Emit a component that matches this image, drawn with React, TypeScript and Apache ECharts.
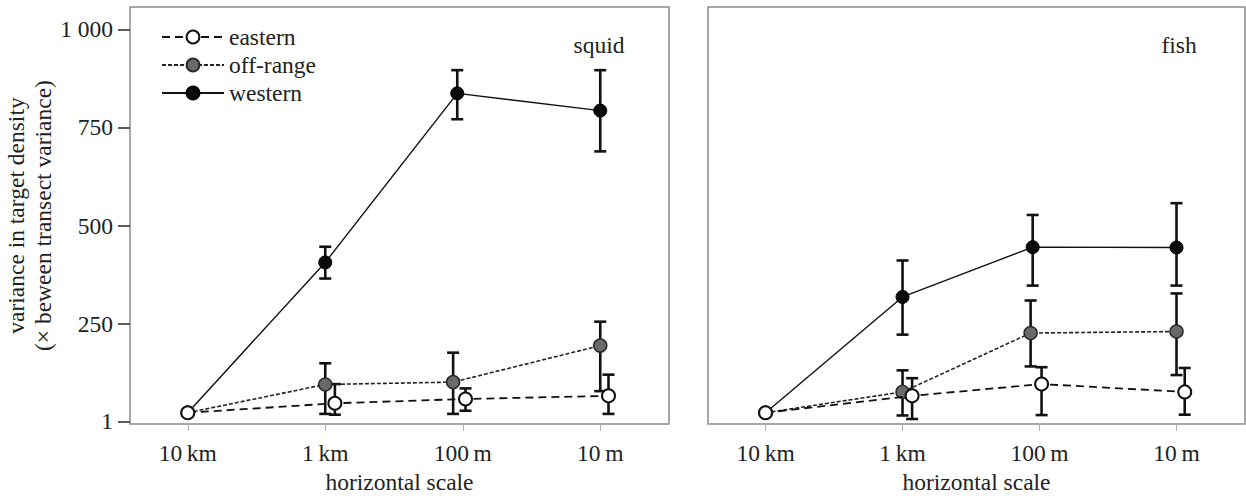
import React, { useEffect, useRef } from 'react';
import * as echarts from 'echarts';

const FONT = 'Liberation Serif';
const FS = 23.5;

const categories = ['10\u2009km', '1\u2009km', '100\u2009m', '10\u2009m'];
const categoryPositions = [0, 1, 2, 3];
const yTickValues = [1, 250, 500, 750, 1000];
const seriesNames = ['eastern', 'off-range', 'western'];
const panelLabels = ['squid', 'fish'];

// squid panel (x = category index incl. small dodge)
const squidEasternX = [0, 1.07, 2.02, 3.06];
const squidEasternY = [23, 47, 58, 66];
const squidEasternHi = [null, 96, 85, 120];
const squidEasternLo = [null, 18, 28, 20];

const squidOffX = [0, 1.0, 1.93, 3.0];
const squidOffY = [23, 95, 101, 194];
const squidOffHi = [null, 149, 176, 255];
const squidOffLo = [null, 20, 20, 78];

const squidWestX = [0, 1.0, 1.96, 3.0];
const squidWestY = [23, 406, 837, 793];
const squidWestHi = [null, 446, 896, 896];
const squidWestLo = [null, 365, 771, 689];

// fish panel
const fishEasternX = [0, 1.07, 2.015, 3.06];
const fishEasternY = [23, 66, 96, 76];
const fishEasternHi = [null, 111, 139, 137];
const fishEasternLo = [null, 7, 17, 18];

const fishOffX = [0, 1.0, 1.935, 3.0];
const fishOffY = [23, 76, 226, 230];
const fishOffHi = [null, 131, 309, 327];
const fishOffLo = [null, 16, 141, 119];

const fishWestX = [0, 1.0, 1.95, 3.0];
const fishWestY = [23, 318, 445, 444];
const fishWestHi = [null, 411, 527, 557];
const fishWestLo = [null, 222, 347, 347];

const styles: Record<string, any> = {
  eastern: {
    itemStyle: { color: '#ffffff', borderColor: '#111', borderWidth: 2 },
    lineStyle: { color: '#111', width: 1.8, type: [8, 5] },
    z: 5,
  },
  'off-range': {
    itemStyle: { color: '#6a6a6a', borderColor: '#2a2a2a', borderWidth: 1.5 },
    lineStyle: { color: '#222', width: 1.6, type: [4, 2] },
    z: 4,
  },
  western: {
    itemStyle: { color: '#0a0a0a', borderColor: '#000', borderWidth: 1 },
    lineStyle: { color: '#111', width: 1.4, type: 'solid' },
    z: 3,
  },
};

function lineSeries(name: string, xs: number[], ys: number[], g: number) {
  const s = styles[name];
  return {
    type: 'line',
    name,
    xAxisIndex: g,
    yAxisIndex: g,
    data: xs.map((x, i) => [x, ys[i]]),
    symbol: 'circle',
    symbolSize: 13,
    itemStyle: s.itemStyle,
    lineStyle: s.lineStyle,
    z: s.z,
    silent: true,
  };
}

function errSeries(xs: number[], hi: (number | null)[], lo: (number | null)[], g: number, z: number) {
  const data: number[][] = [];
  xs.forEach((x, i) => {
    if (hi[i] != null && lo[i] != null) data.push([x, lo[i] as number, hi[i] as number]);
  });
  return {
    type: 'custom',
    xAxisIndex: g,
    yAxisIndex: g,
    data,
    z,
    silent: true,
    encode: { x: 0, y: [1, 2] },
    renderItem: (params: any, api: any) => {
      const x = api.value(0);
      const pLo = api.coord([x, api.value(1)]);
      const pHi = api.coord([x, api.value(2)]);
      const cap = 6;
      const style = { stroke: '#111', lineWidth: 2.6 };
      return {
        type: 'group',
        children: [
          { type: 'line', shape: { x1: pHi[0], y1: pHi[1], x2: pLo[0], y2: pLo[1] }, style },
          { type: 'line', shape: { x1: pHi[0] - cap, y1: pHi[1], x2: pHi[0] + cap, y2: pHi[1] }, style },
          { type: 'line', shape: { x1: pLo[0] - cap, y1: pLo[1], x2: pLo[0] + cap, y2: pLo[1] }, style },
        ],
      };
    },
  };
}

const textBase = { fontFamily: FONT, fontSize: FS, color: '#222' };

function xAxis(g: number) {
  return {
    type: 'value',
    gridIndex: g,
    min: -0.42,
    max: 3.5,
    splitLine: { show: false },
    axisLine: { show: false, onZero: false },
    axisTick: {
      show: true,
      customValues: categoryPositions,
      length: 7,
      lineStyle: { color: '#b0b0b0', width: 1 },
    },
    axisLabel: {
      customValues: categoryPositions,
      formatter: (v: number) => categories[Math.round(v)],
      margin: 17,
      ...textBase,
    },
    name: 'horizontal scale',
    nameLocation: 'middle',
    nameGap: 42,
    nameTextStyle: { ...textBase },
  };
}

function yAxis(g: number) {
  const left = g === 0;
  return {
    type: 'value',
    gridIndex: g,
    min: -6,
    max: 1057,
    splitLine: { show: false },
    axisLine: { show: false, onZero: false },
    axisTick: {
      show: left,
      customValues: yTickValues,
      length: 12,
      lineStyle: { color: '#333', width: 1.6 },
    },
    axisLabel: {
      show: left,
      customValues: yTickValues,
      formatter: (v: number) => (v === 1000 ? '1 000' : String(v)),
      margin: 17,
      ...textBase,
    },
    name: left ? 'variance in target density\n(\u00d7 beween transect variance)' : '',
    nameLocation: 'middle',
    nameRotate: 90,
    nameGap: 69,
    nameTextStyle: { ...textBase, lineHeight: 27 },
  };
}

export default function App() {
  const ref = useRef<HTMLDivElement>(null);
  useEffect(() => {
    if (!ref.current) return;
    const chart = echarts.init(ref.current, undefined, { renderer: 'svg' });
    const panels = [
      {
        e: [squidEasternX, squidEasternY, squidEasternHi, squidEasternLo],
        o: [squidOffX, squidOffY, squidOffHi, squidOffLo],
        w: [squidWestX, squidWestY, squidWestHi, squidWestLo],
      },
      {
        e: [fishEasternX, fishEasternY, fishEasternHi, fishEasternLo],
        o: [fishOffX, fishOffY, fishOffHi, fishOffLo],
        w: [fishWestX, fishWestY, fishWestHi, fishWestLo],
      },
    ];
    const series: any[] = [];
    panels.forEach((p: any, g) => {
      series.push(errSeries(p.w[0], p.w[2], p.w[3], g, 2));
      series.push(errSeries(p.o[0], p.o[2], p.o[3], g, 2));
      series.push(errSeries(p.e[0], p.e[2], p.e[3], g, 2));
      series.push(lineSeries('western', p.w[0], p.w[1], g));
      series.push(lineSeries('off-range', p.o[0], p.o[1], g));
      series.push(lineSeries('eastern', p.e[0], p.e[1], g));
    });
    chart.setOption({
      animation: false,
      backgroundColor: '#ffffff',
      grid: [
        { left: 130, top: 7, width: 539, height: 426, show: true, borderColor: '#8c8c8c', borderWidth: 1.5, backgroundColor: 'transparent' },
        { left: 708, top: 7, width: 537, height: 426, show: true, borderColor: '#8c8c8c', borderWidth: 1.5, backgroundColor: 'transparent' },
      ],
      xAxis: [xAxis(0), xAxis(1)],
      yAxis: [yAxis(0), yAxis(1)],
      legend: {
        data: seriesNames,
        orient: 'vertical',
        left: 156,
        top: 20,
        itemWidth: 62,
        itemHeight: 16,
        itemGap: 4,
        selectedMode: false,
        textStyle: { ...textBase, lineHeight: 23.5 },
      },
      graphic: [
        { type: 'text', x: 599, y: 45, style: { text: panelLabels[0], textAlign: 'center', textVerticalAlign: 'middle', font: `${FS}px ${FONT}`, fill: '#222' } },
        { type: 'text', x: 1179, y: 45, style: { text: panelLabels[1], textAlign: 'center', textVerticalAlign: 'middle', font: `${FS}px ${FONT}`, fill: '#222' } },
      ],
      series,
    });
    return () => chart.dispose();
  }, []);
  return <div ref={ref} style={{ position: 'fixed', left: 0, top: 0, width: 1246, height: 499 }} />;
}
